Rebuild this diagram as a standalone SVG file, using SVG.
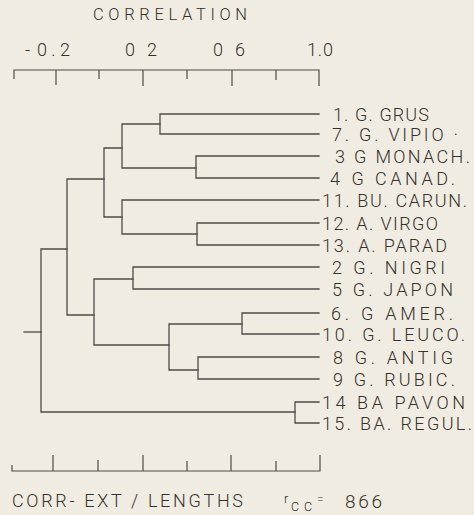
<svg xmlns="http://www.w3.org/2000/svg" width="474" height="515" viewBox="0 0 474 515">
<style>
.bg{fill:#f1ece2}
.ln{fill:none;stroke:#4d4b48;stroke-width:1.3;stroke-linecap:square}
.ax{fill:none;stroke:#4d4b48;stroke-width:1.2}
text{font-family:Roboto,"Liberation Sans",sans-serif;font-weight:300;fill:#34322e}
.lb{font-size:18px}
.tk{font-size:18px}
</style>
<rect class="bg" x="0" y="0" width="474" height="515"/>
<text class="tk" x="93" y="20" textLength="154" lengthAdjust="spacing" style="font-size:16.5px">CORRELATION</text>
<text class="tk" x="25" y="56">-</text>
<text class="tk" x="37" y="56" textLength="33" lengthAdjust="spacing">0.2</text>
<text class="tk" x="125" y="56" textLength="32" lengthAdjust="spacing">0 2</text>
<text class="tk" x="213" y="56" textLength="32" lengthAdjust="spacing">0 6</text>
<text class="tk" x="307" y="56" textLength="26" lengthAdjust="spacing">1.0</text>
<g id="axis-top">
<path class="ax" d="M14,79 V70 H319 V86 M56,70 V85 M99,70 V79 M143,70 V86 M187,70 V79 M232,70 V86 M276,70 V80"/>
</g>
<g id="connectors">
<path class="ln" d="M319,114 H160 V134 H319"/>
<path class="ln" d="M319,156 H196 V178 H319"/>
<path class="ln" d="M160,124 H122 V168 H196"/>
<path class="ln" d="M319,223 H197 V245 H319"/>
<path class="ln" d="M319,200 H122 V234 H197"/>
<path class="ln" d="M122,148 H104 V217 H122"/>
<path class="ln" d="M319,267 H133 V289 H319"/>
<path class="ln" d="M319,313 H242 V334 H319"/>
<path class="ln" d="M319,357 H198 V379 H319"/>
<path class="ln" d="M242,324 H169 V370 H198"/>
<path class="ln" d="M133,279 H94 V345 H169"/>
<path class="ln" d="M104,179 H67 V315 H94"/>
<path class="ln" d="M319,402 H295 V423 H319"/>
<path class="ln" d="M67,249 H41 V412 H295"/>
<path class="ln" d="M24,332 H41"/>
</g>
<g id="n1"><text class="lb" x="333" y="121" textLength="96" lengthAdjust="spacing">1. G. GRUS</text></g>
<g id="n7"><text class="lb" x="332" y="141" textLength="126" lengthAdjust="spacing">7. G. VIPIO ·</text></g>
<g id="n3"><text class="lb" x="335" y="163" textLength="135" lengthAdjust="spacing">3 G MONACH.</text></g>
<g id="n4"><text class="lb" x="330" y="185" textLength="125" lengthAdjust="spacing">4 G CANAD.</text></g>
<g id="n11"><text class="lb" x="322" y="207" textLength="145" lengthAdjust="spacing">11. BU. CARUN.</text></g>
<g id="n12"><text class="lb" x="322" y="230" textLength="116" lengthAdjust="spacing">12. A. VIRGO</text></g>
<g id="n13"><text class="lb" x="322" y="252" textLength="125" lengthAdjust="spacing">13. A. PARAD</text></g>
<g id="n2"><text class="lb" x="332" y="274" textLength="113" lengthAdjust="spacing">2 G. NIGRI</text></g>
<g id="n5"><text class="lb" x="332" y="296" textLength="121" lengthAdjust="spacing">5 G. JAPON</text></g>
<g id="n6"><text class="lb" x="331" y="320" textLength="122" lengthAdjust="spacing">6. G AMER.</text></g>
<g id="n10"><text class="lb" x="322" y="341" textLength="143" lengthAdjust="spacing">10. G. LEUCO.</text></g>
<g id="n8"><text class="lb" x="333" y="364" textLength="120" lengthAdjust="spacing">8 G. ANTIG</text></g>
<g id="n9"><text class="lb" x="333" y="386" textLength="122" lengthAdjust="spacing">9 G. RUBIC.</text></g>
<g id="n14"><text class="lb" x="322" y="409" textLength="143" lengthAdjust="spacing">14 BA PAVON</text></g>
<g id="n15"><text class="lb" x="322" y="430" textLength="150" lengthAdjust="spacing">15. BA. REGUL.</text></g>
<g id="axis-bottom">
<path class="ax" d="M12,465 V471 H320 V455 M53,471 V455 M98,471 V460 M143,471 V455 M187,471 V461 M231,471 V455 M276,471 V461"/>
</g>
<text class="tk" x="12" y="507" textLength="231" lengthAdjust="spacing">CORR- EXT / LENGTHS</text>
<text x="284" y="503" style="font-size:13px">r</text>
<text x="291" y="511" textLength="21" lengthAdjust="spacing" style="font-size:12.5px">CC</text>
<text x="317" y="504" style="font-size:12px">=</text>
<text class="tk" x="345" y="508" textLength="37" lengthAdjust="spacing" style="font-size:19px">866</text>
</svg>
